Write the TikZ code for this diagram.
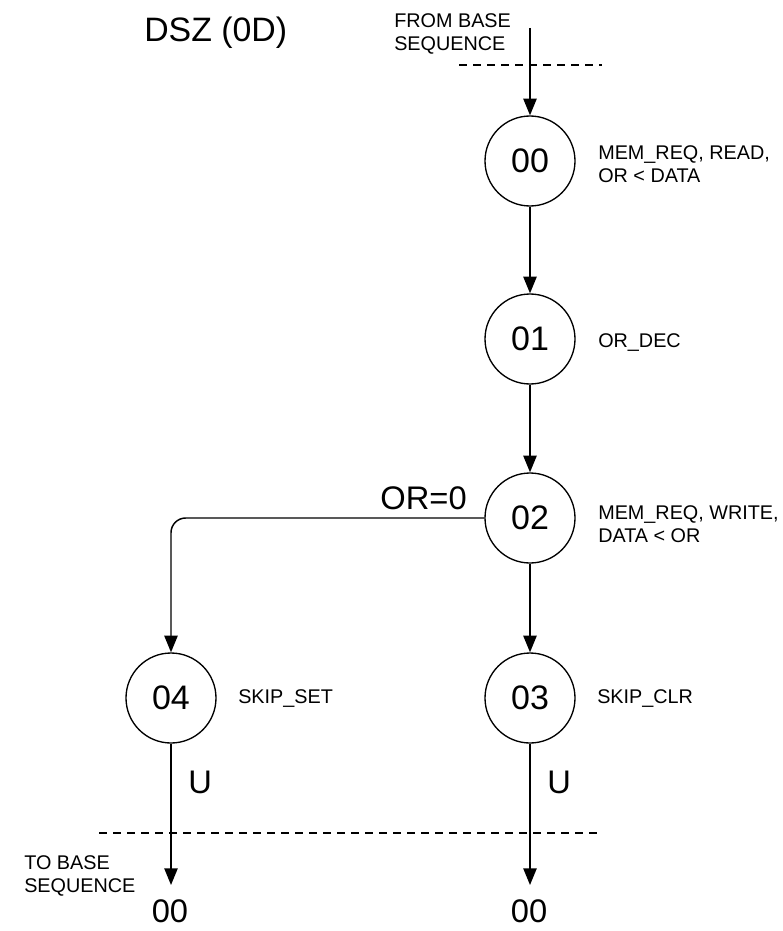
\documentclass[tikz,border=0pt]{standalone}
\usepackage{fontspec}
\setmainfont{Liberation Sans}
\usetikzlibrary{arrows.meta}
\begin{document}
\begin{tikzpicture}[x=0.75pt,y=-0.75pt,
  state/.style={circle,draw,line width=1pt,minimum size=67.5pt,inner sep=0pt,font=\fontsize{25.5}{30}\selectfont},
  lbl/.style={inner sep=0pt,align=left,font=\fontsize{14.85}{14.6}\selectfont},
  big/.style={inner sep=0pt,font=\fontsize{24.5}{28}\selectfont},
  titlefont/.style={inner sep=0pt,font=\fontsize{25.4}{30}\selectfont},
  flow/.style={line width=1.1pt,-{Triangle[length=12.5pt,width=10pt]}},
  sep/.style={line width=0.9pt,dash pattern=on 6pt off 4.5pt}
]
\useasboundingbox (0,0) rectangle (782,931);
% states
\node[state] (s00) at (530,161) {00};
\node[state] (s01) at (530,339) {01};
\node[state] (s02) at (530,518) {02};
\node[state] (s03) at (530,698) {03};
\node[state] (s04) at (171,698) {04};
% free ends
\coordinate (in) at (530,28);
\coordinate (corner) at (171,518);
\coordinate (out4) at (171,885);
\coordinate (out3) at (530,885);
% connectors
\draw[flow] (in) -- (s00);
\draw[flow] (s00) -- (s01);
\draw[flow] (s01) -- (s02);
\draw[flow] (s02) -- (s03);
\draw[flow,rounded corners=11pt] (s02.west) -- (corner) -- (s04.north);
\draw[flow] (s04) -- (out4);
\draw[flow] (s03) -- (out3);
% dashed separators
\coordinate (d1a) at (459,65);
\coordinate (d1b) at (602,65);
\coordinate (d2a) at (99,833);
\coordinate (d2b) at (600,833);
\draw[sep] (d1a) -- (d1b);
\draw[sep] (d2a) -- (d2b);
% texts
\node[titlefont,anchor=base west] (title) at (144,42) {DSZ (0D)};
\node[lbl,anchor=north west] (from) at (394,13) {FROM BASE\\[3pt]SEQUENCE};
\node[lbl,anchor=north west] (a00) at (598,145) {MEM\_REQ, READ,\\[3pt]OR < DATA};
\node[lbl,anchor=base west] (a01) at (598,347) {OR\_DEC};
\node[lbl,anchor=north west] (a02) at (598,505) {MEM\_REQ, WRITE,\\[3pt]DATA < OR};
\node[lbl,anchor=base west] (a04) at (238,703) {SKIP\_SET};
\node[lbl,anchor=base west] (a03) at (597,703) {SKIP\_CLR};
\node[big,anchor=base east] (cond) at (467,509) {OR=0};
\node[big,anchor=base west] (u4) at (188,793) {U};
\node[big,anchor=base west] (u3) at (547,793) {U};
\node[lbl,anchor=north west] (to) at (24,855) {TO BASE\\[3pt]SEQUENCE};
\node[big,anchor=base] (e4) at (170,922) {00};
\node[big,anchor=base] (e3) at (529,922) {00};
\end{tikzpicture}
\end{document}
